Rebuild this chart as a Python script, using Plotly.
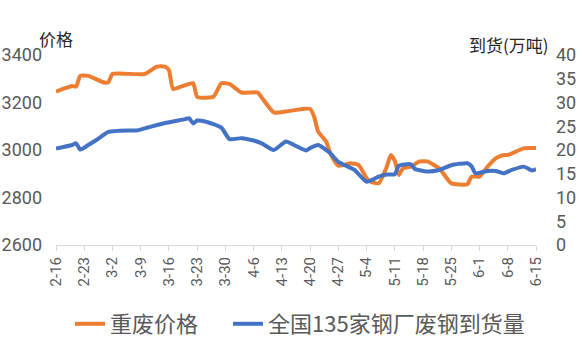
import plotly.graph_objects as go

# ---- data ----
price_dates = ["2022-02-16","2022-02-20","2022-02-21","2022-02-22","2022-02-24","2022-02-28","2022-03-01","2022-03-02",
               "2022-03-10","2022-03-13","2022-03-15","2022-03-16","2022-03-17","2022-03-19","2022-03-22","2022-03-23",
               "2022-03-27","2022-03-29","2022-03-31","2022-04-03","2022-04-07","2022-04-08","2022-04-11","2022-04-14",
               "2022-04-18","2022-04-20","2022-04-21","2022-04-22","2022-04-24","2022-04-25","2022-04-27","2022-04-30",
               "2022-05-02","2022-05-04","2022-05-05","2022-05-07","2022-05-09","2022-05-10","2022-05-11","2022-05-12",
               "2022-05-13","2022-05-15","2022-05-17","2022-05-19","2022-05-22","2022-05-25","2022-05-29","2022-05-30",
               "2022-06-01","2022-06-03","2022-06-05","2022-06-07","2022-06-08","2022-06-12","2022-06-15"]
price_values = [3246, 3269, 3267, 3312, 3312, 3284, 3286, 3320, 3320, 3351, 3351, 3337, 3257, 3267, 3281, 3224,
                3224, 3281, 3278, 3242, 3242, 3221, 3158, 3162, 3173, 3173, 3140, 3077, 3035, 2986, 2934, 2944,
                2937, 2881, 2867, 2860, 2930, 2979, 2954, 2895, 2923, 2930, 2951, 2952, 2923, 2860, 2856, 2888,
                2888, 2930, 2965, 2979, 2979, 3007, 3008]

arrival_dates = ["2022-02-16","2022-02-20","2022-02-21","2022-02-22","2022-02-24","2022-02-26","2022-03-01","2022-03-06",
                 "2022-03-08","2022-03-11","2022-03-15","2022-03-20","2022-03-21","2022-03-22","2022-03-23","2022-03-25",
                 "2022-03-29","2022-03-31","2022-04-03","2022-04-06","2022-04-08","2022-04-11","2022-04-14","2022-04-16",
                 "2022-04-19","2022-04-20","2022-04-22","2022-04-25","2022-04-27","2022-05-01","2022-05-04","2022-05-07",
                 "2022-05-09","2022-05-11","2022-05-12","2022-05-15","2022-05-16","2022-05-19","2022-05-22","2022-05-25",
                 "2022-05-29","2022-05-30","2022-05-31","2022-06-03","2022-06-05","2022-06-07","2022-06-09","2022-06-12",
                 "2022-06-14","2022-06-15"]
arrival_values = [20.3, 21.05, 21.4, 20.1, 21.05, 22.1, 23.8, 24.1, 24.1, 24.8, 25.7, 26.5, 26.7, 25.6, 26.2, 26.0,
                  24.7, 22.3, 22.5, 22.0, 21.4, 20.0, 21.8, 21.05, 19.9, 20.4, 21.05, 19.3, 17.5, 15.8, 13.3, 14.4,
                  14.85, 14.9, 16.7, 17.0, 16.0, 15.5, 15.8, 16.8, 17.2, 16.6, 15.1, 15.6, 15.6, 15.1, 15.8, 16.5,
                  15.7, 16.0]

tick_dates = ["2022-02-16","2022-02-23","2022-03-02","2022-03-09","2022-03-16","2022-03-23","2022-03-30","2022-04-06",
              "2022-04-13","2022-04-20","2022-04-27","2022-05-04","2022-05-11","2022-05-18","2022-05-25","2022-06-01",
              "2022-06-08","2022-06-15"]
tick_labels = ["2-16","2-23","3-2","3-9","3-16","3-23","3-30","4-6","4-13","4-20","4-27","5-4","5-11","5-18",
               "5-25","6-1","6-8","6-15"]

left_ticks = [2600, 2800, 3000, 3200, 3400]
right_ticks = [0, 5, 10, 15, 20, 25, 30, 35, 40]

series_names = ["重废价格", "全国135家钢厂废钢到货量"]

ORANGE = "#ED7D31"
BLUE = "#4472C4"
CJK = "Noto Sans CJK SC"

fig = go.Figure()
fig.add_trace(go.Scatter(x=price_dates, y=price_values, name=series_names[0], mode="lines",
                         line=dict(color=ORANGE, width=4, shape="spline", smoothing=0.5), yaxis="y",
                         legend="legend", showlegend=True))
fig.add_trace(go.Scatter(x=arrival_dates, y=arrival_values, name=series_names[1], mode="lines",
                         line=dict(color=BLUE, width=4, shape="spline", smoothing=0.5), yaxis="y2",
                         legend="legend2", showlegend=True))

legend_common = dict(orientation="h", xref="container", yref="container", y=0.069,
                     xanchor="left", yanchor="middle", font=dict(family=CJK, size=22, color="#595959"),
                     bgcolor="rgba(0,0,0,0)", borderwidth=0)

fig.update_layout(
    width=582, height=348,
    showlegend=True,
    margin=dict(l=56, r=46, t=55, b=103, autoexpand=False),
    paper_bgcolor="white", plot_bgcolor="white",
    font=dict(family=CJK, color="#595959"),
    xaxis=dict(type="date", range=["2022-02-16", "2022-06-15"], tickmode="array",
               tickvals=tick_dates, ticktext=tick_labels, tickangle=-90,
               tickfont=dict(family="Roboto", size=15, color="#595959"),
               showline=True, linecolor="#d9d9d9", linewidth=1, ticks="outside", ticklen=5,
               tickcolor="#d9d9d9", showgrid=False, zeroline=False, automargin=False),
    yaxis=dict(range=[2600, 3400], tickvals=left_ticks, showgrid=False, zeroline=False,
               showline=False, tickfont=dict(family="Roboto", size=18, color="#595959"),
               ticklabelstandoff=13, automargin=False),
    yaxis2=dict(range=[0, 40], tickvals=right_ticks, overlaying="y", side="right",
                showgrid=False, zeroline=False, showline=False,
                tickfont=dict(family="Roboto", size=18, color="#595959"),
                ticklabelstandoff=19, automargin=False),
    legend=dict(legend_common, x=70 / 582),
    legend2=dict(legend_common, x=228 / 582),
    annotations=[
        dict(text="价格", xref="paper", yref="paper", x=0.0, y=1.087, showarrow=False,
             font=dict(family=CJK, size=17, color="#262626"), xanchor="center", yanchor="middle"),
        dict(text="到货(万吨)", xref="paper", yref="paper", x=0.944, y=1.053, showarrow=False,
             font=dict(family=CJK, size=17, color="#262626"), xanchor="center", yanchor="middle"),
    ],
)

fig.write_html("out.html")
